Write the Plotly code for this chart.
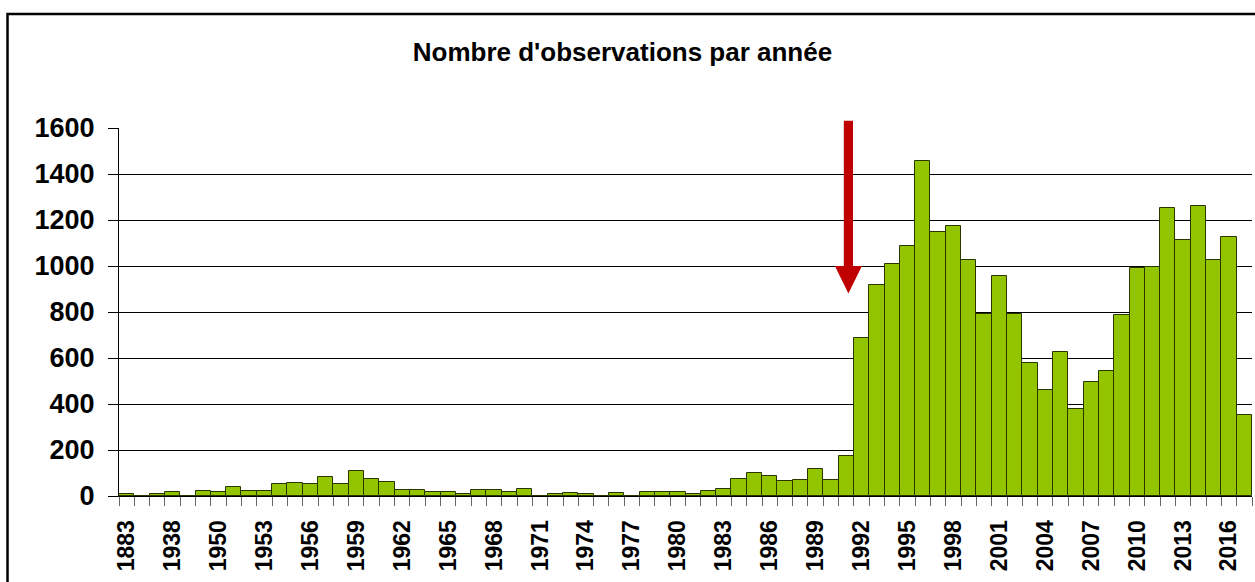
import plotly.graph_objects as go

years = ["1883", "1920", "1930", "1938", "1945", "1947",
         "1950", "1951", "1952", "1953", "1954", "1955", "1956", "1957", "1958", "1959",
         "1960", "1961", "1962", "1963", "1964", "1965", "1966", "1967", "1968", "1969",
         "1970", "1971", "1972", "1973", "1974", "1975", "1976", "1977", "1978", "1979",
         "1980", "1981", "1982", "1983", "1984", "1985", "1986", "1987", "1988", "1989",
         "1990", "1991", "1992", "1993", "1994", "1995", "1996", "1997", "1998", "1999",
         "2000", "2001", "2002", "2003", "2004", "2005", "2006", "2007", "2008", "2009",
         "2010", "2011", "2012", "2013", "2014", "2015", "2016", "2017"]
counts = [8, 0, 9, 17, 0, 22,
          17, 38, 22, 22, 52, 55, 51, 83, 51, 109,
          74, 59, 26, 26, 17, 17, 10, 26, 26, 17,
          30, 0, 9, 13, 9, 0, 12, 0, 16, 16,
          16, 9, 22, 30, 74, 99, 86, 65, 70, 117,
          70, 172, 689, 917, 1008, 1088, 1455, 1147, 1176, 1024,
          793, 956, 792, 580, 463, 624, 380, 496, 544, 789,
          991, 997, 1252, 1113, 1263, 1024, 1126, 354]
y_ticks = [0, 200, 400, 600, 800, 1000, 1200, 1400, 1600]
title_text = "Nombre d'observations par année"
arrow_year = "1991"

tick_labels = [y if i % 3 == 0 else "" for i, y in enumerate(years)]

FONT = "Liberation Sans, Arial, sans-serif"

fig = go.Figure()
fig.add_trace(go.Bar(
    x=years, y=counts,
    marker=dict(color="#92C400", line=dict(color="#2A3600", width=1)),
    hoverinfo="x+y",
))

ymax = 1600
c = years.index(arrow_year) + 0.14
shapes = [
    # outer frame
    dict(type="rect", xref="paper", yref="paper", x0=-0.0984, x1=1.02, y0=-0.3, y1=1.3098,
         line=dict(color="black", width=2.5), fillcolor="rgba(0,0,0,0)", layer="below"),
    # arrow shaft
    dict(type="rect", xref="x", yref="paper", x0=c - 0.3, x1=c + 0.3,
         y0=995 / ymax, y1=1632 / ymax, fillcolor="#C00000", line=dict(width=0)),
    # arrow head
    dict(type="path", xref="x", yref="paper",
         path=f"M {c - 0.88} {1000 / ymax} L {c + 0.88} {1000 / ymax} L {c} {880 / ymax} Z",
         fillcolor="#C00000", line=dict(width=0)),
]

fig.update_layout(
    width=1255, height=582,
    margin=dict(l=119, r=3, t=128, b=86, autoexpand=False),
    paper_bgcolor="white", plot_bgcolor="white",
    bargap=0,
    showlegend=False,
    shapes=shapes,
    font=dict(family=FONT, color="black"),
    title=dict(text="<b>" + title_text + "</b>", x=0.496, xref="container", xanchor="center",
               y=1 - 52 / 582, yref="container", yanchor="middle",
               font=dict(family=FONT, size=26, color="black")),
    xaxis=dict(
        type="category", categoryorder="array", categoryarray=years,
        tickmode="array", tickvals=years, ticktext=tick_labels,
        tickson="boundaries", ticks="outside", ticklen=9, tickcolor="#666", tickwidth=1,
        tickangle=-90, tickfont=dict(family=FONT, size=23, color="black", weight="bold"),
        showline=True, linecolor="black", linewidth=1,
        showgrid=False, ticklabelstandoff=14, automargin=False,
        range=[-0.5, len(years) - 0.5],
    ),
    yaxis=dict(
        range=[0, ymax], tickmode="array", tickvals=y_ticks,
        ticks="outside", ticklen=10, tickcolor="black",
        tickfont=dict(family=FONT, size=27, color="black", weight="bold"),
        showline=True, linecolor="black", linewidth=1,
        showgrid=True, gridcolor="black", gridwidth=1,
        zeroline=False, ticklabelstandoff=8, automargin=False,
    ),
)

fig.write_html("out.html", config={"displayModeBar": False},
               post_script="document.body.style.margin='0';")
